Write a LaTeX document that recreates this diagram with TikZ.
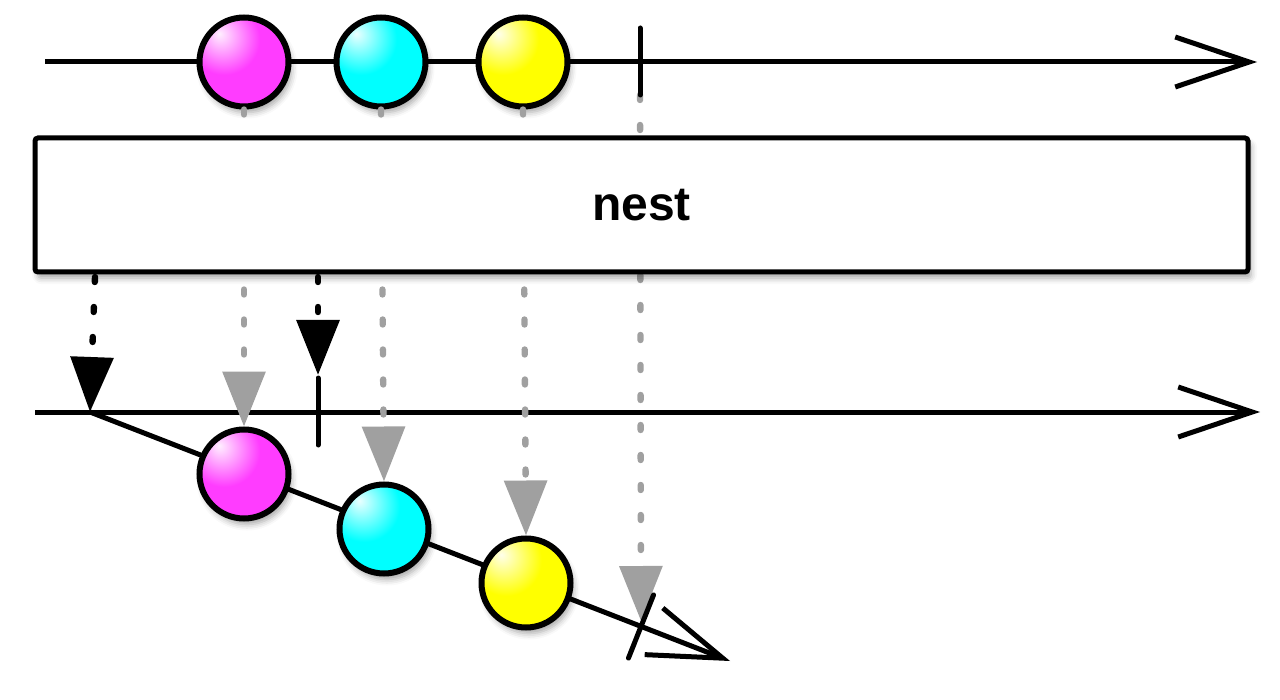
\documentclass[tikz,border=0pt]{standalone}
\usepackage{fontspec}
\setmainfont{Liberation Sans}
\usetikzlibrary{arrows.meta,shadows.blur}
\definecolor{mmag}{RGB}{255,60,255}
\definecolor{mcyan}{RGB}{0,255,255}
\definecolor{myel}{RGB}{255,255,0}
\definecolor{dgray}{RGB}{160,160,160}
\colorlet{mcol}{mmag}
\pgfdeclareradialshading[mcol]{marble}{\pgfpoint{-14bp}{16bp}}{color(0bp)=(mcol!8!white); color(20bp)=(mcol); color(38bp)=(mcol); color(66bp)=(mcol!50!black); color(100bp)=(mcol!50!black)}
\tikzset{
  mainline/.style={line width=2.5pt, -{Straight Barb[length=37pt,width=25pt]}},
  tickmark/.style={line width=2.5pt, line cap=round},
  marble/.style={circle, draw=black, line width=3pt, minimum size=44.5pt, inner sep=0pt,
    /utils/exec={\colorlet{mcol}{#1}}, shading=marble,
    blur shadow={shadow xshift=1.5pt, shadow yshift=-3pt, shadow blur radius=3pt, shadow opacity=35}},
  opbox/.style={draw=black, fill=white, line width=2.5pt, rounded corners=1.5pt,
    minimum width=606.5pt, minimum height=67pt, inner sep=0pt,
    font=\fontsize{24pt}{28pt}\selectfont\bfseries,
    blur shadow={shadow xshift=1.5pt, shadow yshift=-3pt, shadow blur radius=3pt, shadow opacity=35}},
  dotconn/.style={line width=3.2pt, line cap=round, dash pattern=on 2.5pt off 12.5pt,
    -{Triangle[length=27.5pt,width=21pt]}},
  grayconn/.style={dotconn, draw=dgray, color=dgray},
  blackconn/.style={dotconn, draw=black},
}
\begin{document}
\begin{tikzpicture}[x=0.5pt, y=-0.5pt]
\useasboundingbox (0,0) rectangle (1280,700);
% coordinates
\coordinate (tl0) at (45,62);
\coordinate (tl1) at (1257,62);
\coordinate (tt1) at (640,28);
\coordinate (tt2) at (640,95);
\coordinate (bl0) at (35,412);
\coordinate (bl1) at (1260,412);
\coordinate (d0) at (90,412);
\coordinate (d1) at (730,661);
\coordinate (bt1) at (318,378);
\coordinate (bt2) at (318,445);
\coordinate (bttop) at (318,375);
\coordinate (dt1) at (628.5,658);
\coordinate (dt2) at (653.5,595);
\coordinate (dtx) at (641,621);
\coordinate (bs1) at (95,277);
\coordinate (bs2) at (318,277);
% main lines
\draw[mainline] (tl0) -- (tl1);
\draw[mainline] (bl0) -- (bl1);
\draw[mainline] (d0) -- (d1);
% marbles
\node[marble=mmag] (t1) at (244,62) {};
\node[marble=mcyan] (t2) at (381,62) {};
\node[marble=myel] (t3) at (523,62) {};
\node[marble=mmag] (b1) at (244,474) {};
\node[marble=mcyan] (b2) at (384,529) {};
\node[marble=myel] (b3) at (526,583) {};
% connectors
\draw[grayconn] (t1.south) -- (b1.north);
\draw[grayconn] (t2.south) -- (b2.north);
\draw[grayconn] (t3.south) -- (b3.north);
\draw[grayconn] (tt2) -- (dtx);
\draw[blackconn] (bs1) -- (d0);
\draw[blackconn] (bs2) -- (bttop);
% operator box
\node[opbox] (box) at (641.5,205) {nest};
% ticks
\draw[tickmark] (tt1) -- (tt2);
\draw[tickmark] (bt1) -- (bt2);
\draw[tickmark] (dt1) -- (dt2);
\end{tikzpicture}
\end{document}
